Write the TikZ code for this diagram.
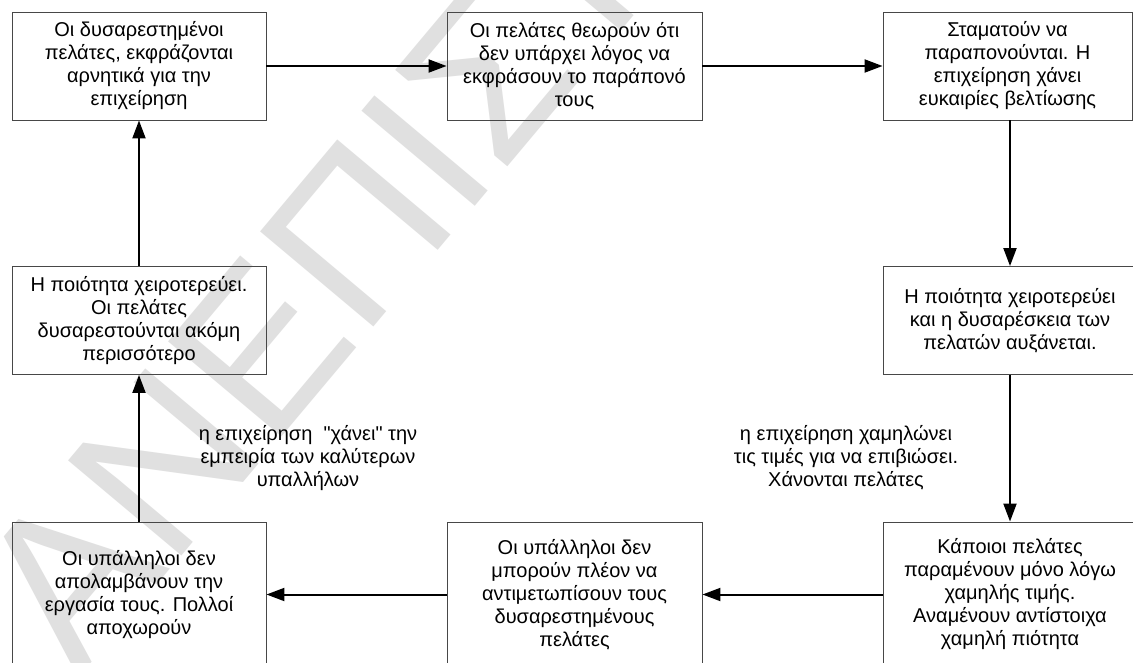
\documentclass[tikz,border=0pt]{standalone}
\usepackage{fontspec}
\setmainfont{Liberation Sans}
\newfontfamily\plainsans{Liberation Sans}
\usetikzlibrary{arrows.meta}
\newcommand{\boxfont}{\plainsans\fontsize{20}{23}\selectfont}
\begin{document}
\begin{tikzpicture}[x=1pt,y=-1pt,
  box/.style={draw=black!72, line width=0.9pt, inner sep=0pt, align=center,
              font=\boxfont, minimum width=254pt, minimum height=108pt},
  tallbox/.style={box, minimum height=145pt},
  link/.style={line width=2pt, -{Triangle[length=18pt,width=13pt]}},
  note/.style={align=center, font=\boxfont, inner sep=0pt},
  stamp/.style={text=black!12, inner sep=0pt, anchor=base west, rotate=50,
                font=\plainsans\fontsize{215}{215}\selectfont}]
\useasboundingbox (0,0) rectangle (1133,662);
\fill[white] (0,0) rectangle (1133,662);

% faint stamp across the sheet
\node[stamp] (wm) at (78,679) {ΑΝΕΠΙΣΤ};

% top row
\node[box] (b1) at (139,66) {Οι δυσαρεστημένοι\\πελάτες, εκφράζονται\\αρνητικά για την\\επιχείρηση};
\node[box, minimum width=255pt] (b2) at (574.5,66) {Οι πελάτες θεωρούν ότι\\δεν υπάρχει λόγος να\\εκφράσουν το παράπονό\\τους};
\node[box, minimum width=249pt] (b3) at (1007.5,66) {Σταματούν να\\παραπονούνται. Η\\επιχείρηση χάνει\\ευκαιρίες βελτίωσης};

% middle row
\node[box] (b5) at (139,320.5) {Η ποιότητα χειροτερεύει.\\Οι πελάτες\\δυσαρεστούνται ακόμη\\περισσότερο};
\node[box] (b4) at (1010,320.5) {Η ποιότητα χειροτερεύει\\και η δυσαρέσκεια των\\πελατών αυξάνεται.};

% bottom row
\node[tallbox] (b6) at (139,594.5) {Οι υπάλληλοι δεν\\απολαμβάνουν την\\εργασία τους. Πολλοί\\αποχωρούν};
\node[tallbox, minimum width=255pt] (b7) at (574.5,594.5) {Οι υπάλληλοι δεν\\μπορούν πλέον να\\αντιμετωπίσουν τους\\δυσαρεστημένους\\πελάτες};
\node[tallbox] (b8) at (1010,594.5) {Κάποιοι πελάτες\\παραμένουν μόνο λόγω\\χαμηλής τιμής.\\Αναμένουν αντίστοιχα\\χαμηλή πιότητα};

% side notes
\node[note] (n1) at (308,458) {η επιχείρηση\ \ "χάνει" την\\εμπειρία των καλύτερων\\υπαλλήλων};
\node[note] (n2) at (846,458) {η επιχείρηση χαμηλώνει\\τις τιμές για να επιβιώσει.\\Χάνονται πελάτες};

% cycle of connectors
\draw[link] (b1) -- (b2);
\draw[link] (b2) -- (b3);
\draw[link] (b3.south -| b4.north) -- (b4.north);
\draw[link] (b4.south) -- (b8.north);
\draw[link] (b8.west) -- (b7.east);
\draw[link] (b7.west) -- (b6.east);
\draw[link] (b6.north) -- (b5.south);
\draw[link] (b5.north) -- (b1.south);
\end{tikzpicture}
\end{document}
